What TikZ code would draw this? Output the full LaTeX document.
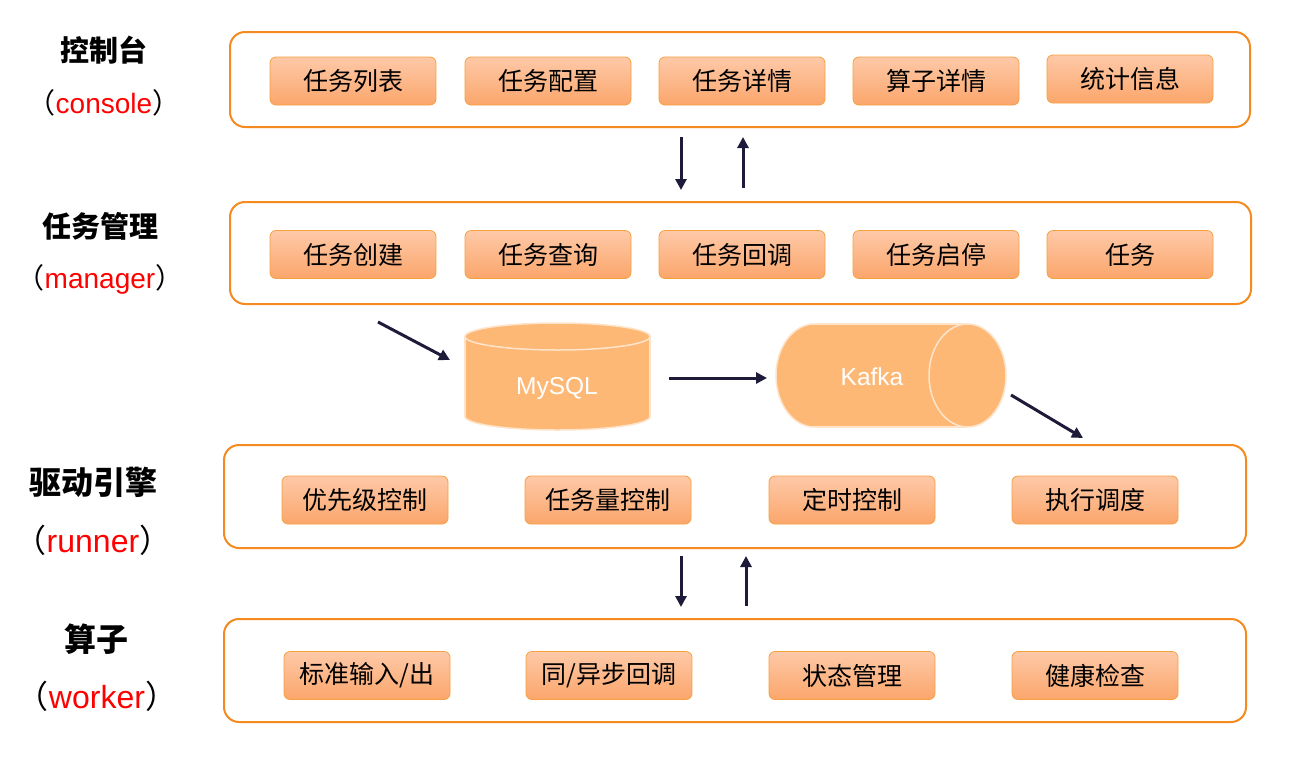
\documentclass[tikz,border=0pt]{standalone}
\usepackage{fontspec}
\setmainfont{Liberation Sans}
\newfontfamily\cjk{Noto Sans CJK SC}
\usetikzlibrary{arrows.meta}
\definecolor{outl}{HTML}{F58A1F}
\definecolor{inb}{HTML}{F7A040}
\definecolor{gtop}{HTML}{FEC9A8}
\definecolor{gbot}{HTML}{FBA66B}
\definecolor{cylf}{HTML}{FDB876}
\definecolor{cylb}{HTML}{FDE4CA}
\definecolor{arrc}{HTML}{1E1B3A}
\begin{document}
\begin{tikzpicture}[x=1pt,y=-1pt,
  outbox/.style={draw=outl, line width=2pt, rounded corners=15pt, inner sep=0pt},
  inbox/.style={draw=inb, line width=0.8pt, rounded corners=6pt, top color=gtop, bottom color=gbot,
     minimum width=166pt, minimum height=48pt, inner sep=0pt, text=black, font=\cjk\fontsize{25}{28}\selectfont},
  labA/.style={font=\cjk\bfseries\fontsize{29}{32}\selectfont, text=black},
  labB/.style={font=\cjk\bfseries\fontsize{32}{36}\selectfont, text=black},
  subA/.style={font=\fontsize{28}{32}\selectfont, anchor=base, inner sep=0pt},
  subB/.style={font=\fontsize{32}{36}\selectfont, anchor=base, inner sep=0pt},
  cyltext/.style={text=white, font=\fontsize{24.5}{27}\selectfont},
  arr/.style={draw=arrc, line width=3pt, -{Triangle[length=11pt,width=11pt]}}
]
\useasboundingbox (0,0) rectangle (1298,761);
\fill[white] (0,0) rectangle (1298,761);

% outer boxes
\node[outbox, minimum width=1020pt, minimum height=95pt] (r1) at (740,79.5) {};
\node[outbox, minimum width=1021pt, minimum height=102pt] (r2) at (740.5,253) {};
\node[outbox, minimum width=1022pt, minimum height=103pt] (r3) at (735,496.5) {};
\node[outbox, minimum width=1022pt, minimum height=103pt] (r4) at (735,670.5) {};

% left labels
\node[labA] (l1) at (104,50) {控制台};
\node[subA] (s1) at (104,113) {{\cjk （}\textcolor{red}{console}{\cjk ）}};
\node[labA] (l2) at (100,226) {任务管理};
\node[subA] (s2) at (100,288) {{\cjk （}\textcolor{red}{manager}{\cjk ）}};
\node[labB] (l3) at (93,482) {驱动引擎};
\node[subB] (s3) at (93,552) {{\cjk （}\textcolor{red}{runner}{\cjk ）}};
\node[labB] (l4) at (96,639) {算子};
\node[subB] (s4) at (97,708) {{\cjk （}\textcolor{red}{worker}{\cjk ）}};

% row 1
\node[inbox] (b11) at (353,81) {任务列表};
\node[inbox] (b12) at (548,81) {任务配置};
\node[inbox] (b13) at (742,81) {任务详情};
\node[inbox] (b14) at (936,81) {算子详情};
\node[inbox] (b15) at (1130,79) {统计信息};
% row 2
\node[inbox] (b21) at (353,254.5) {任务创建};
\node[inbox] (b22) at (548,254.5) {任务查询};
\node[inbox] (b23) at (742,254.5) {任务回调};
\node[inbox] (b24) at (936,254.5) {任务启停};
\node[inbox] (b25) at (1130,254.5) {任务};
% row 3
\node[inbox] (b31) at (365,500) {优先级控制};
\node[inbox] (b32) at (608,500) {任务量控制};
\node[inbox] (b33) at (852,500) {定时控制};
\node[inbox] (b34) at (1095,500) {执行调度};
% row 4
\node[inbox] (b41) at (367,675.5) {标准输入/出};
\node[inbox] (b42) at (609,675.5) {同/异步回调};
\node[inbox] (b43) at (852,675.5) {状态管理};
\node[inbox] (b44) at (1095,675.5) {健康检查};

% MySQL cylinder
\filldraw[fill=cylf, draw=cylb, line width=1.5pt] (557.5,416.5) ellipse [x radius=92.5, y radius=13.5];
\fill[cylf] (465,336.5) rectangle (650,416.5);
\draw[cylb, line width=1.5pt] (465,336.5) -- (465,416.5) (650,336.5) -- (650,416.5);
\filldraw[fill=cylf, draw=cylb, line width=1.5pt] (557.5,336.5) ellipse [x radius=92.5, y radius=13.5];
\node[cyltext] (mysql) at (557,388) {MySQL};

% Kafka cylinder
\filldraw[fill=cylf, draw=cylb, line width=1.5pt] (814.5,375.5) ellipse [x radius=38.5, y radius=51.5];
\fill[cylf] (814.5,324) rectangle (967.5,427);
\draw[cylb, line width=1.5pt] (814.5,324) -- (967.5,324) (814.5,427) -- (967.5,427);
\filldraw[fill=cylf, draw=cylb, line width=1.5pt] (967.5,375.5) ellipse [x radius=38.5, y radius=51.5];
\node[cyltext] (kafka) at (872,377) {Kafka};

% arrows
\coordinate (a1s) at (681,137); \coordinate (a1e) at (681,190);
\coordinate (a2s) at (743,188); \coordinate (a2e) at (743,137);
\coordinate (a3s) at (378,322); \coordinate (a3e) at (450,360);
\coordinate (a4s) at (669,378); \coordinate (a4e) at (767,378);
\coordinate (a5s) at (1011,395); \coordinate (a5e) at (1083,438);
\coordinate (a6s) at (681,556); \coordinate (a6e) at (681,607);
\coordinate (a7s) at (746,606); \coordinate (a7e) at (746,556);
\draw[arr] (a1s) -- (a1e);
\draw[arr] (a2s) -- (a2e);
\draw[arr] (a3s) -- (a3e);
\draw[arr] (a4s) -- (a4e);
\draw[arr] (a5s) -- (a5e);
\draw[arr] (a6s) -- (a6e);
\draw[arr] (a7s) -- (a7e);
\end{tikzpicture}
\end{document}
